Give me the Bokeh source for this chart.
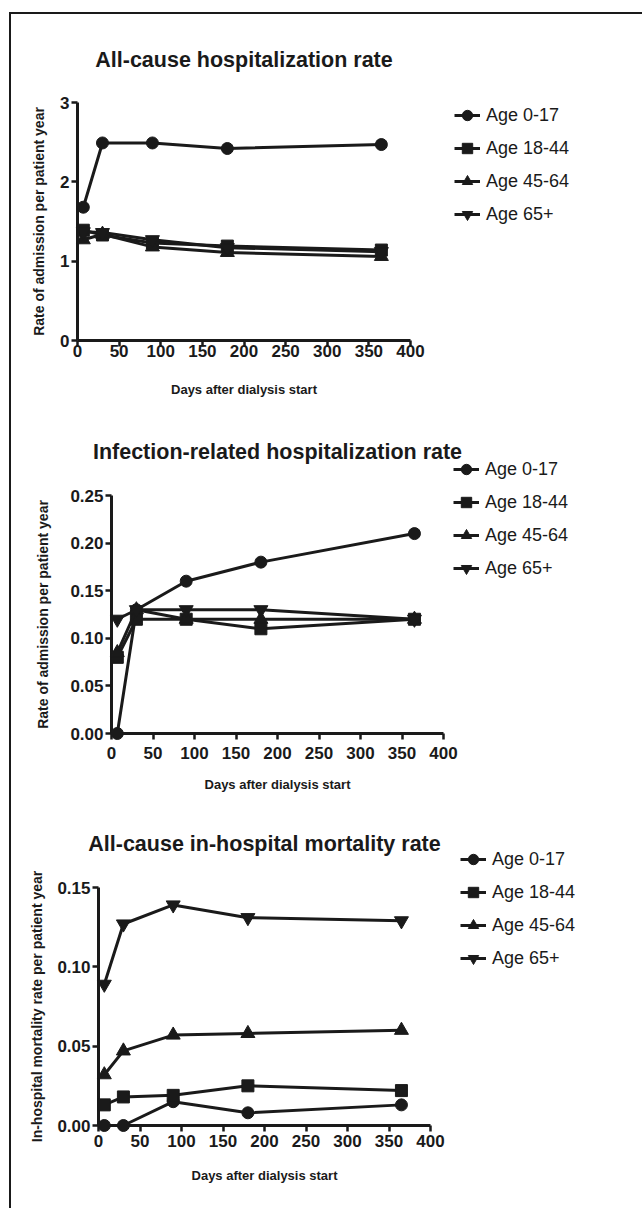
from bokeh.plotting import figure
from bokeh.models import Legend, LegendItem, FixedTicker, NumeralTickFormatter, Range1d, Title
from bokeh.embed import file_html
from bokeh.resources import INLINE

# ---------------- data ----------------
days = [7, 30, 90, 180, 365]
age_groups = ["Age 0-17", "Age 18-44", "Age 45-64", "Age 65+"]

allcause_0_17 = [1.68, 2.49, 2.49, 2.42, 2.47]
allcause_18_44 = [1.39, 1.33, 1.23, 1.19, 1.14]
allcause_45_64 = [1.27, 1.34, 1.18, 1.11, 1.06]
allcause_65p = [1.37, 1.36, 1.27, 1.17, 1.12]

infect_0_17 = [0.00, 0.13, 0.16, 0.18, 0.21]
infect_18_44 = [0.08, 0.12, 0.12, 0.11, 0.12]
infect_45_64 = [0.085, 0.13, 0.12, 0.12, 0.12]
infect_65p = [0.12, 0.13, 0.13, 0.13, 0.12]

mort_0_17 = [0.000, 0.000, 0.015, 0.008, 0.013]
mort_18_44 = [0.013, 0.018, 0.019, 0.025, 0.022]
mort_45_64 = [0.032, 0.047, 0.057, 0.058, 0.060]
mort_65p = [0.089, 0.127, 0.139, 0.131, 0.129]

x_ticks = [0, 50, 100, 150, 200, 250, 300, 350, 400]
allcause_ticks = [0, 1, 2, 3]
infect_ticks = [0.0, 0.05, 0.10, 0.15, 0.20, 0.25]
mort_ticks = [0.0, 0.05, 0.10, 0.15]

titles = ["All-cause hospitalization rate",
          "Infection-related hospitalization rate",
          "All-cause in-hospital mortality rate"]
ylabels = ["Rate of admission per patient year",
           "Rate of admission per patient year",
           "In-hospital mortality rate per patient year"]
xlabel = "Days after dialysis start"

# ---------------- style ----------------
INK = "#1a1a1a"
FONT = "Liberation Sans"
markers = ["circle", "square", "triangle", "inverted_triangle"]
msizes = [12, 12, 14, 14]


def make_panel(title, ylabel, yend, yticks, yfmt, series,
               b_left, f_width, b_right, b_top, b_bottom, t_sd,
               leg_x, leg_y, leg_sd, ylab_sd, xlab_sd, xtick_sd):
    p = figure(frame_width=f_width, frame_height=238,
               min_border_left=b_left, min_border_right=b_right,
               min_border_top=b_top, min_border_bottom=b_bottom,
               x_range=Range1d(0, 400), y_range=Range1d(0, yend),
               output_backend="svg", toolbar_location=None,
               background_fill_color="white", border_fill_color="white")
    p.outline_line_color = None
    p.grid.visible = False

    t = Title(text=title, align="center", text_font=FONT,
              text_font_size="21.5px", text_font_style="bold",
              text_color=INK, standoff=t_sd)
    p.add_layout(t, "above")

    for ax in (p.xaxis[0], p.yaxis[0]):
        ax.axis_line_width = 3
        ax.axis_line_color = INK
        ax.major_tick_line_width = 2.5
        ax.major_tick_line_color = INK
        ax.major_tick_in = 0
        ax.major_tick_out = 6
        ax.minor_tick_line_color = None
        ax.major_label_text_font = FONT
        ax.major_label_text_font_size = "17px"
        ax.major_label_text_font_style = "bold"
        ax.major_label_text_color = INK
        ax.axis_label_text_font = FONT
        ax.axis_label_text_font_style = "bold"
        ax.axis_label_text_color = INK

    p.xaxis.ticker = FixedTicker(ticks=x_ticks)
    p.xaxis.axis_label = xlabel
    p.xaxis.axis_label_text_font_size = "13px"
    p.xaxis.major_label_standoff = xtick_sd
    p.xaxis.axis_label_standoff = xlab_sd

    p.yaxis.ticker = FixedTicker(ticks=yticks)
    if yfmt:
        p.yaxis.formatter = NumeralTickFormatter(format=yfmt)
    p.yaxis.axis_label = ylabel
    p.yaxis.axis_label_text_font_size = "14px"
    p.yaxis.major_label_standoff = 2
    p.yaxis.axis_label_standoff = ylab_sd

    items = []
    for label, vals, mk, ms in zip(age_groups, series, markers, msizes):
        lr = p.line(days, vals, line_width=3, line_color=INK, level="overlay")
        sr = p.scatter(days, vals, marker=mk, size=ms, fill_color=INK,
                       line_color=INK, level="overlay")
        items.append(LegendItem(label=label, renderers=[lr, sr]))

    leg = Legend(items=items, location=(leg_x, leg_y),
                 border_line_color=None, background_fill_alpha=0,
                 padding=0, margin=0, spacing=7,
                 glyph_width=26, glyph_height=26, label_height=26,
                 label_standoff=leg_sd, label_text_font=FONT,
                 label_text_font_size="18px", label_text_color=INK)
    p.add_layout(leg, "right")
    return p


p1 = make_panel(titles[0], ylabels[0], 3, allcause_ticks, None,
                [allcause_0_17, allcause_18_44, allcause_45_64, allcause_65p],
                66, 333, 221, 88, 65, 62, 44, 113, 6, 10, 22, -2)
p2 = make_panel(titles[1], ylabels[1], 0.25, infect_ticks, "0.00",
                [infect_0_17, infect_18_44, infect_45_64, infect_65p],
                100, 332, 188, 90, 64, 64, 10, 152, 6, 16, 15, 7)
p3 = make_panel(titles[2], ylabels[2], 0.15, mort_ticks, "0.00",
                [mort_0_17, mort_18_44, mort_45_64, mort_65p],
                87, 332, 201, 90, 70, 64, 30, 154, 6, 9, 18, 3)

TEMPLATE = """
{% block postamble %}
<style>
  html, body { margin: 0; padding: 0; }
  #frame { margin: 12px 0 0 9px; border-left: 2px solid #1a1a1a;
           border-top: 2px solid #1a1a1a; display: flex;
           flex-direction: column; align-items: flex-start;
           min-height: 1196px; box-sizing: border-box; }
</style>
{% endblock %}
{% block contents %}
<div id="frame">
{{ super() }}
</div>
{% endblock %}
"""

open("out.html", "w").write(file_html([p1, p2, p3], INLINE, template=TEMPLATE))
